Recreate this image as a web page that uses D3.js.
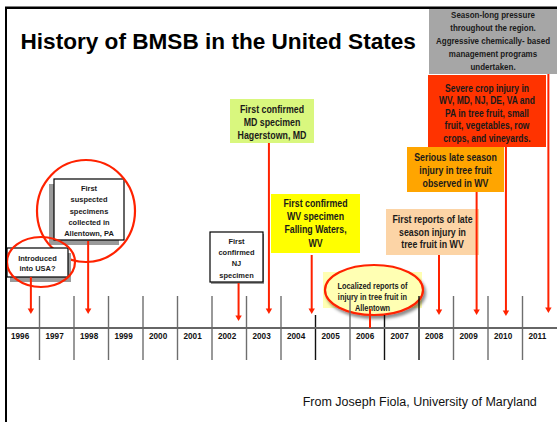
<!DOCTYPE html>
<html><head><meta charset="utf-8">
<script src="https://cdn.jsdelivr.net/npm/d3@7"></script>
<style>body{margin:0;background:#fff}svg{display:block}</style>
</head><body><svg id="c" width="557" height="422"></svg>
<script>
// ---- data ----
const years = [1996,1997,1998,1999,2000,2001,2002,2003,2004,2005,2006,2007,2008,2009,2010,2011];
const eventYears = [1996.75, 1998.41, 2002.77, 2003.65, 2004.89, 2006.58, 2008.58, 2009.67, 2010.52, 2011.75];
const eventTexts = [
  ["Introduced","into USA?"],
  ["First","suspected","specimens","collected in","Allentown, PA"],
  ["First","confirmed","NJ","specimen"],
  ["First confirmed","MD specimen","Hagerstown, MD"],
  ["First confirmed","WV specimen","Falling Waters,","WV"],
  ["Localized reports of","injury in tree fruit in","Allentown"],
  ["First reports of late","season injury in","tree fruit in WV"],
  ["Serious late season","injury in tree fruit","observed in WV"],
  ["Severe crop injury in","WV, MD, NJ, DE, VA and","PA in tree fruit, small","fruit, vegetables, row","crops, and vineyards."],
  ["Season-long pressure","throughout the region.","Aggressive chemically- based","management programs","undertaken."]
];
const title = "History of BMSB in the United States";
const source = "From Joseph Fiola, University of Maryland";

// ---- layout (annotation boxes) ----
const layout = [
  {x:7,y:248,w:61,h:29,fill:"#fff",stroke:"#000",shadow:[3,5],fs:7.8,sx:0.96,t0:258.3,lh:10,ell:{cx:41,cy:262,rx:34,ry:25},a0:277,a1:314,head:true},
  {x:54,y:179,w:70,h:61,fill:"#fff",stroke:"#000",shadow:[-5,5],fs:7.8,sx:0.96,t0:188.3,lh:11.25,ell:{cx:86,cy:211,rx:49,ry:51},a0:241,a1:314,head:true},
  {x:210,y:232,w:53,h:50,fill:"#fff",stroke:"#000",shadow:[1,2],fs:7.8,sx:0.96,t0:240.7,lh:11.4,a0:283,a1:321,head:true},
  {x:230,y:99,w:84,h:44,fill:"#d9f77e",fs:11,sx:0.8,t0:109.3,lh:12.9,a0:143,a1:314,head:true},
  {x:271,y:194,w:89,h:59,fill:"#ffff00",fs:11,sx:0.8,t0:203.3,lh:13.1,a0:255,a1:314,head:true},
  {x:323,y:272,w:99,h:36,fill:"#ffffb3",fs:8.2,sx:0.9,t0:286,lh:10.8,ell:{cx:374,cy:290,rx:49,ry:25,shadow:true},a0:309,a1:328,head:false},
  {x:386,y:209,w:93,h:46,fill:"#fcd4a6",fs:11,sx:0.8,t0:219,lh:12.7,a0:255,a1:315,head:true},
  {x:407,y:147,w:97,h:45,fill:"#ffa500",fs:11,sx:0.8,t0:157.3,lh:12.7,a0:192,a1:315,head:true},
  {x:428,y:75,w:118,h:72,fill:"#ff3300",fs:10,sx:0.85,t0:88.3,lh:12.5,a0:147,a1:316,head:true},
  {x:429,y:7,w:128,h:67,fill:"#a6a6a6",fs:9.3,sx:0.86,t0:14.5,lh:13,a0:74,a1:313,head:true}
];

const svg = d3.select("#c");
const W = 557, H = 422;
const x = d3.scaleLinear().domain([years[0], years[years.length-1]+1]).range([5, W]);
const lineY = 328;
const red = "#ff2200";
const font = "'Liberation Sans', Arial, sans-serif";

const defs = svg.append("defs");
const f = defs.append("filter").attr("id","sh").attr("x","-20%").attr("y","-20%").attr("width","150%").attr("height","160%");
f.append("feDropShadow").attr("dx",2).attr("dy",3).attr("stdDeviation",1.8).attr("flood-color","#000").attr("flood-opacity",0.45);

const order = [9,8,7,6,5,4,3,2,1,0];
order.forEach(i => {
  const L = layout[i];
  const g = svg.append("g");
  if (L.shadow) {
    g.append("rect").attr("x",L.x+L.shadow[0]).attr("y",L.y+L.shadow[1]).attr("width",L.w).attr("height",L.h).attr("fill","#9a9a9a");
  }
  g.append("rect").attr("x",L.x).attr("y",L.y).attr("width",L.w).attr("height",L.h)
    .attr("fill",L.fill).attr("stroke",L.stroke||"none").attr("stroke-width",1.2);
  if (L.ell && L.ell.shadow) {
    g.append("ellipse").attr("cx",L.ell.cx).attr("cy",L.ell.cy).attr("rx",L.ell.rx).attr("ry",L.ell.ry)
      .attr("fill","#ffffb3").attr("stroke",red).attr("stroke-width",2.2).attr("filter","url(#sh)");
  }
  const cx = L.x + L.w/2;
  g.selectAll("text").data(eventTexts[i]).join("text")
    .attr("transform",(d,k)=>`translate(${cx},${L.t0 + k*L.lh + 0.36*L.fs}) scale(${L.sx},1)`)
    .attr("text-anchor","middle").attr("font-family",font).attr("font-weight","bold")
    .attr("font-size",L.fs).attr("fill","#1a1a1a").text(d=>d);
  if (L.ell && !L.ell.shadow) {
    g.append("ellipse").attr("cx",L.ell.cx).attr("cy",L.ell.cy).attr("rx",L.ell.rx).attr("ry",L.ell.ry)
      .attr("fill","none").attr("stroke",red).attr("stroke-width",2.2);
  }
});

// timeline separators
const shortB = [2005, 2007];
const blackB = [2005, 2007, 2008];
svg.append("g").selectAll("line").data(years.slice(1)).join("line")
  .attr("x1",d=>x(d)).attr("x2",d=>x(d))
  .attr("y1",d=>shortB.includes(d)?315:296).attr("y2",360)
  .attr("stroke",d=>blackB.includes(d)?"#111":"#6e6e6e").attr("stroke-width",1.4);

// main timeline
svg.append("line").attr("x1",5).attr("x2",W).attr("y1",lineY).attr("y2",lineY)
  .attr("stroke","#666").attr("stroke-width",2);

// year labels
svg.append("g").selectAll("text").data(years).join("text")
  .attr("x",d=>x(d)+6).attr("y",339)
  .attr("font-family",font).attr("font-weight","bold").attr("font-size",8.2).attr("fill","#111")
  .text(d=>d);

// arrows
const ag = svg.append("g");
eventYears.forEach((yr,i) => {
  const L = layout[i], ax = x(yr);
  ag.append("line").attr("x1",ax).attr("x2",ax).attr("y1",L.a0).attr("y2",L.head?L.a1-4:L.a1)
    .attr("stroke",red).attr("stroke-width",2);
  if (L.head) {
    ag.append("path").attr("d",`M${ax-3.2},${L.a1-5.5}L${ax+3.2},${L.a1-5.5}L${ax},${L.a1}Z`).attr("fill",red);
  }
});

// frame
svg.append("line").attr("x1",5).attr("x2",W).attr("y1",7.8).attr("y2",7.8).attr("stroke","#000").attr("stroke-width",2.4);
svg.append("line").attr("x1",6).attr("x2",6).attr("y1",7).attr("y2",H).attr("stroke","#000").attr("stroke-width",2);

// title
svg.append("text").attr("x",20.5).attr("y",48.5).attr("font-family",font).attr("font-weight","bold")
  .attr("font-size",22.6).attr("fill","#000").text(title);

// source
svg.append("text").attr("x",302.7).attr("y",406).attr("font-family",font)
  .attr("font-size",12.5).attr("fill","#111").text(source);
</script></body></html>
